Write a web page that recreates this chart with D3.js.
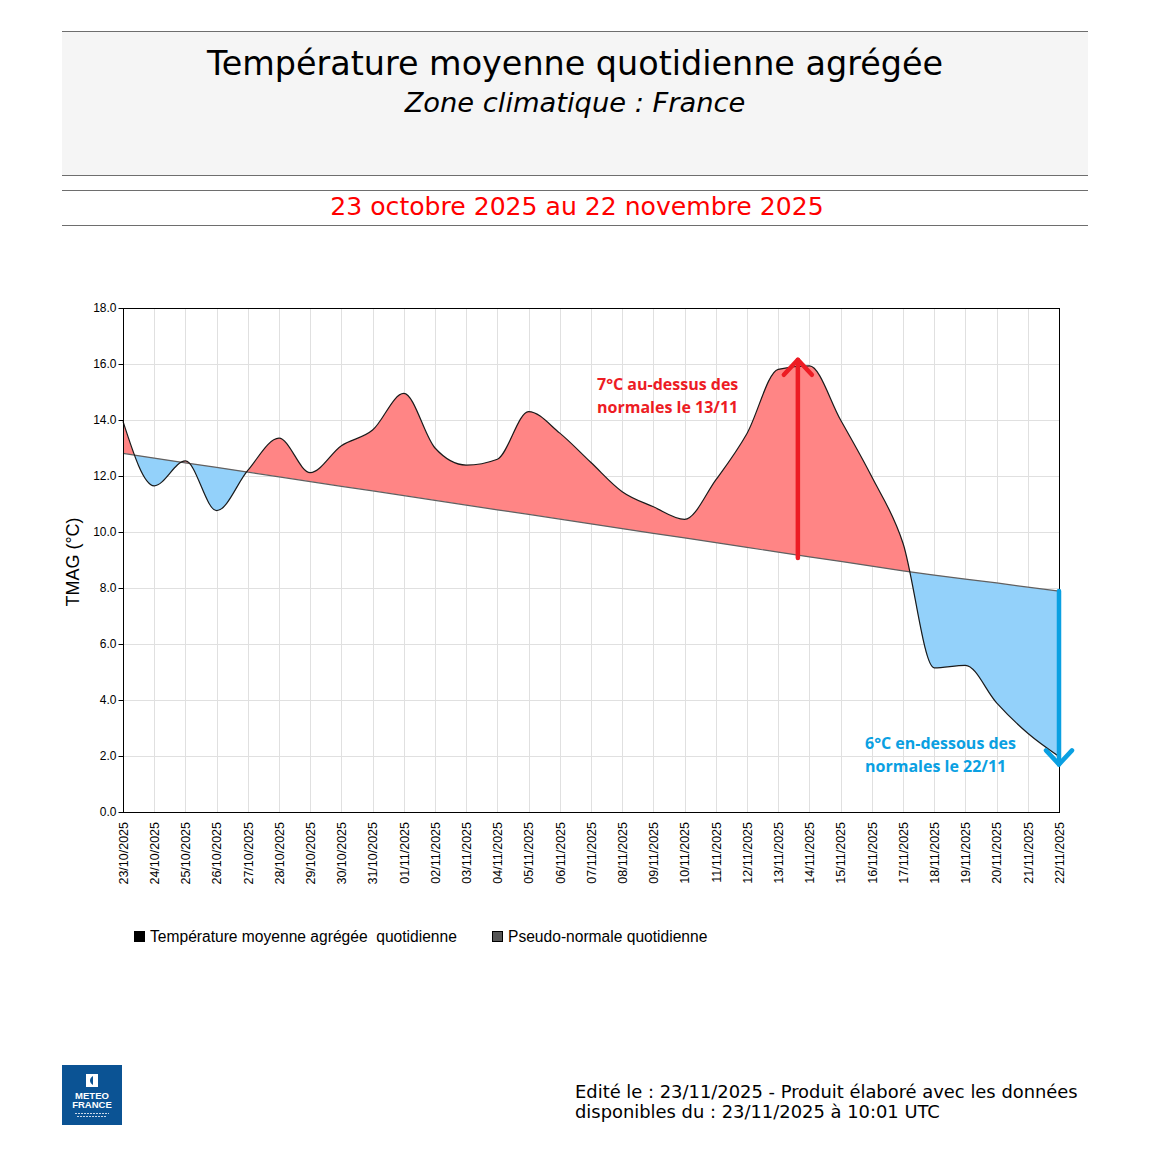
<!DOCTYPE html>
<html>
<head>
<meta charset="utf-8">
<script src="https://cdn.jsdelivr.net/npm/d3@7"></script>
<style>
  body { margin: 0; background: #fff; }
  svg { display: block; }
</style>
</head>
<body>
<script>
// daily values (23/10/2025 -> 22/11/2025)
const dates = ['23/10/2025','24/10/2025','25/10/2025','26/10/2025','27/10/2025','28/10/2025','29/10/2025',
  '30/10/2025','31/10/2025','01/11/2025','02/11/2025','03/11/2025','04/11/2025','05/11/2025','06/11/2025',
  '07/11/2025','08/11/2025','09/11/2025','10/11/2025','11/11/2025','12/11/2025','13/11/2025','14/11/2025',
  '15/11/2025','16/11/2025','17/11/2025','18/11/2025','19/11/2025','20/11/2025','21/11/2025','22/11/2025'];

const tmag = [13.95, 11.65, 12.54, 10.76, 12.2, 13.35, 12.12, 13.08, 13.64, 14.95, 13.0, 12.39, 12.6, 14.3, 13.53,
  12.48, 11.44, 10.9, 10.45, 11.86, 13.52, 15.81, 15.93, 14.0, 11.97, 9.6, 5.15, 5.24, 3.9, 2.81, 1.98];

const normale = [12.81, 12.64, 12.47, 12.31, 12.14, 11.97, 11.80, 11.63, 11.47, 11.30, 11.13, 10.96, 10.79, 10.63,
  10.46, 10.29, 10.12, 9.95, 9.79, 9.62, 9.45, 9.28, 9.11, 8.95, 8.78, 8.61, 8.46, 8.32, 8.18, 8.03, 7.89];

const yTicks = [0, 2, 4, 6, 8, 10, 12, 14, 16, 18];

const legendLabels = ['Température moyenne agrégée  quotidienne', 'Pseudo-normale quotidienne'];

// annotations: day index (fractional), from value, to value
const redArrow = {day: 21.63, from: 9.07, to: 16.15};
const blueArrow = {day: 30, from: 7.89, to: 1.7};

const width = 1150, height = 1150;
const margin = ({top: 308, right: 91, bottom: 338, left: 123});

const svg = d3.select('body').append('svg')
  .attr('width', width)
  .attr('height', height);

// ---- header ----
svg.append('rect')
  .attr('x', 62).attr('y', 31).attr('width', 1026).attr('height', 144)
  .attr('fill', '#f5f5f5');
[31, 175, 190, 225].forEach(function(y){
  svg.append('line')
    .attr('x1', 62).attr('x2', 1088).attr('y1', y + 0.5).attr('y2', y + 0.5)
    .attr('stroke', '#6e6e6e').attr('stroke-width', 1);
});
svg.append('text')
  .attr('x', 575).attr('y', 75)
  .attr('text-anchor', 'middle')
  .attr('font-family', 'DejaVu Sans')
  .attr('font-size', 33.4)
  .attr('fill', '#000')
  .text('Température moyenne quotidienne agrégée');
svg.append('text')
  .attr('x', 575).attr('y', 112)
  .attr('text-anchor', 'middle')
  .attr('font-family', 'DejaVu Sans')
  .attr('font-style', 'italic')
  .attr('font-size', 27.3)
  .attr('fill', '#000')
  .text('Zone climatique : France');
svg.append('text')
  .attr('x', 577).attr('y', 215)
  .attr('text-anchor', 'middle')
  .attr('font-family', 'DejaVu Sans')
  .attr('font-size', 25.1)
  .attr('fill', '#ff0000')
  .text('23 octobre 2025 au 22 novembre 2025');

// ---- scales ----
const xScale = d3.scaleLinear()
  .domain([0, dates.length - 1])
  .range([margin.left, width - margin.right]);

const yScale = d3.scaleLinear()
  .domain([0, 18])
  .range([height - margin.bottom, margin.top]);

const plot = svg.append('g');

// grid
plot.append('g')
  .selectAll('line')
  .data(d3.range(dates.length))
  .join('line')
  .attr('x1', d => Math.round(xScale(d)) + 0.5)
  .attr('x2', d => Math.round(xScale(d)) + 0.5)
  .attr('y1', yScale(18)).attr('y2', yScale(0))
  .attr('stroke', '#e0e0e0');
plot.append('g')
  .selectAll('line')
  .data(yTicks)
  .join('line')
  .attr('x1', xScale(0)).attr('x2', xScale(dates.length - 1))
  .attr('y1', d => Math.round(yScale(d)) + 0.5)
  .attr('y2', d => Math.round(yScale(d)) + 0.5)
  .attr('stroke', '#e0e0e0');

// clip regions above / below the normal line
const defs = svg.append('defs');
const aboveArea = d3.area()
  .x((d, i) => xScale(i))
  .y0(yScale(18))
  .y1(d => yScale(d));
const belowArea = d3.area()
  .x((d, i) => xScale(i))
  .y0(yScale(0))
  .y1(d => yScale(d));
defs.append('clipPath').attr('id', 'clip-above')
  .append('path').attr('d', aboveArea(normale));
defs.append('clipPath').attr('id', 'clip-below')
  .append('path').attr('d', belowArea(normale));

const tempLine = d3.line()
  .x((d, i) => xScale(i))
  .y(d => yScale(d))
  .curve(d3.curveMonotoneX);

const normLine = d3.line()
  .x((d, i) => xScale(i))
  .y(d => yScale(d));

// area between curve and normal: curve forward, normal back
function bandPath(){
  const top = tempLine(tmag);
  const pts = normale.map((v, i) => [xScale(i), yScale(v)]).reverse();
  return top + 'L' + pts.map(p => p.join(',')).join('L') + 'Z';
}

plot.append('path')
  .attr('d', bandPath())
  .attr('fill', '#ff8585')
  .attr('clip-path', 'url(#clip-above)');
plot.append('path')
  .attr('d', bandPath())
  .attr('fill', '#93d1fa')
  .attr('clip-path', 'url(#clip-below)');

// normal line
plot.append('path')
  .attr('d', normLine(normale))
  .attr('fill', 'none')
  .attr('stroke', '#606060')
  .attr('stroke-width', 1.2);

// temperature line
plot.append('path')
  .attr('d', tempLine(tmag))
  .attr('fill', 'none')
  .attr('stroke', '#1a1a1a')
  .attr('stroke-width', 1.2);

// frame
plot.append('rect')
  .attr('x', xScale(0) + 0.5).attr('y', yScale(18) + 0.5)
  .attr('width', xScale(dates.length - 1) - xScale(0))
  .attr('height', yScale(0) - yScale(18))
  .attr('fill', 'none')
  .attr('stroke', '#000');

// AXES
const yAxis = d3.axisLeft(yScale)
  .tickValues(yTicks)
  .tickFormat(d3.format('.1f'))
  .tickSize(5)
  .tickPadding(2);
const gy = svg.append('g')
  .attr('transform', `translate(${margin.left + 0.5},0)`)
  .call(yAxis);
gy.select('.domain').remove();
gy.selectAll('line').attr('stroke', '#000');
gy.selectAll('text')
  .attr('font-family', 'Liberation Sans, Arial, sans-serif')
  .attr('font-size', 12)
  .attr('fill', '#000');

const xAxis = d3.axisBottom(xScale)
  .tickValues(d3.range(dates.length))
  .tickFormat(i => dates[i])
  .tickSize(0);
const gx = svg.append('g')
  .attr('transform', `translate(0,${height - margin.bottom})`)
  .call(xAxis);
gx.select('.domain').remove();
gx.selectAll('text')
  .attr('font-family', 'Liberation Sans, Arial, sans-serif')
  .attr('font-size', 12.5)
  .attr('fill', '#000')
  .style('text-anchor', 'end')
  .attr('transform', 'rotate(-90)')
  .attr('x', -10)
  .attr('y', 0)
  .attr('dy', '0.35em');

// y label
svg.append('text')
  .attr('transform', `translate(79,${(yScale(0) + yScale(18)) / 2 + 2}) rotate(-90)`)
  .attr('text-anchor', 'middle')
  .attr('font-family', 'Liberation Sans, Arial, sans-serif')
  .attr('font-size', 18)
  .attr('fill', '#000')
  .text('TMAG (°C)');

// ---- annotations ----
function arrow(a, color, headW, headH){
  const g = svg.append('g')
    .attr('stroke', color)
    .attr('stroke-width', 4.5)
    .attr('stroke-linecap', 'round')
    .attr('fill', 'none');
  const x = xScale(a.day);
  const y1 = yScale(a.from), y2 = yScale(a.to);
  const dir = y2 < y1 ? 1 : -1;
  g.append('line').attr('x1', x).attr('x2', x).attr('y1', y1).attr('y2', y2);
  g.append('path')
    .attr('d', `M${x - headW},${y2 + dir * headH}L${x},${y2}L${x + headW},${y2 + dir * headH}`)
    .attr('stroke-linejoin', 'round');
}
arrow(redArrow, '#ed1c24', 14, 15);
arrow(blueArrow, '#0aa0e2', 13, 14);

const annoFont = 'Open Sans, Noto Sans, sans-serif';
svg.append('text')
  .attr('font-family', annoFont).attr('font-weight', 'bold').attr('font-size', 16)
  .attr('fill', '#ed1c24')
  .selectAll('tspan')
  .data(['7°C au-dessus des', 'normales le 13/11'])
  .join('tspan')
  .attr('x', 597)
  .attr('y', (d, i) => 390 + i * 23)
  .text(d => d);
svg.append('text')
  .attr('font-family', annoFont).attr('font-weight', 'bold').attr('font-size', 16)
  .attr('fill', '#0aa0e2')
  .selectAll('tspan')
  .data(['6°C en-dessous des', 'normales le 22/11'])
  .join('tspan')
  .attr('x', 865)
  .attr('y', (d, i) => 749 + i * 23)
  .text(d => d);

// ---- legend ----
const legend = svg.append('g');
const legendX = [134, 492];
const legendColors = ['#000', '#555'];
legendLabels.forEach(function(label, i){
  legend.append('rect')
    .attr('x', legendX[i] + 0.5).attr('y', 931.5)
    .attr('width', 10).attr('height', 10)
    .attr('fill', legendColors[i])
    .attr('stroke', '#000');
  legend.append('text')
    .attr('x', legendX[i] + 16).attr('y', 942)
    .attr('font-family', 'Liberation Sans, Arial, sans-serif')
    .attr('font-size', 15.6)
    .attr('fill', '#000')
    .style('white-space', 'pre')
    .text(label);
});

// ---- footer ----
const logo = svg.append('g').attr('transform', 'translate(62,1065)');
logo.append('rect').attr('width', 60).attr('height', 60).attr('fill', '#0b5394');
logo.append('rect').attr('x', 24).attr('y', 9).attr('width', 12).attr('height', 13).attr('fill', '#fff');
logo.append('path').attr('d', 'M31,11 C27,13 27,18 31,20 Z').attr('fill', '#0b5394');
logo.append('text').attr('x', 30).attr('y', 34).attr('text-anchor', 'middle')
  .attr('font-family', 'Liberation Sans, Arial, sans-serif').attr('font-weight', 'bold')
  .attr('font-size', 9.5).attr('fill', '#fff').text('METEO');
logo.append('text').attr('x', 30).attr('y', 43).attr('text-anchor', 'middle')
  .attr('font-family', 'Liberation Sans, Arial, sans-serif').attr('font-weight', 'bold')
  .attr('font-size', 9.5).attr('fill', '#fff').text('FRANCE');
logo.append('line').attr('x1', 13).attr('x2', 47).attr('y1', 48.5).attr('y2', 48.5)
  .attr('stroke', '#c9d7e8').attr('stroke-width', 1).attr('stroke-dasharray', '2,1');
logo.append('line').attr('x1', 15).attr('x2', 45).attr('y1', 51.5).attr('y2', 51.5)
  .attr('stroke', '#c9d7e8').attr('stroke-width', 1).attr('stroke-dasharray', '2,1');

svg.append('text')
  .attr('font-family', 'DejaVu Sans')
  .attr('font-size', 17.9)
  .attr('fill', '#000')
  .selectAll('tspan')
  .data(['Edité le : 23/11/2025 - Produit élaboré avec les données',
         'disponibles du : 23/11/2025 à 10:01 UTC'])
  .join('tspan')
  .attr('x', 575)
  .attr('y', (d, i) => 1098 + i * 20)
  .text(d => d);
</script>
</body>
</html>
